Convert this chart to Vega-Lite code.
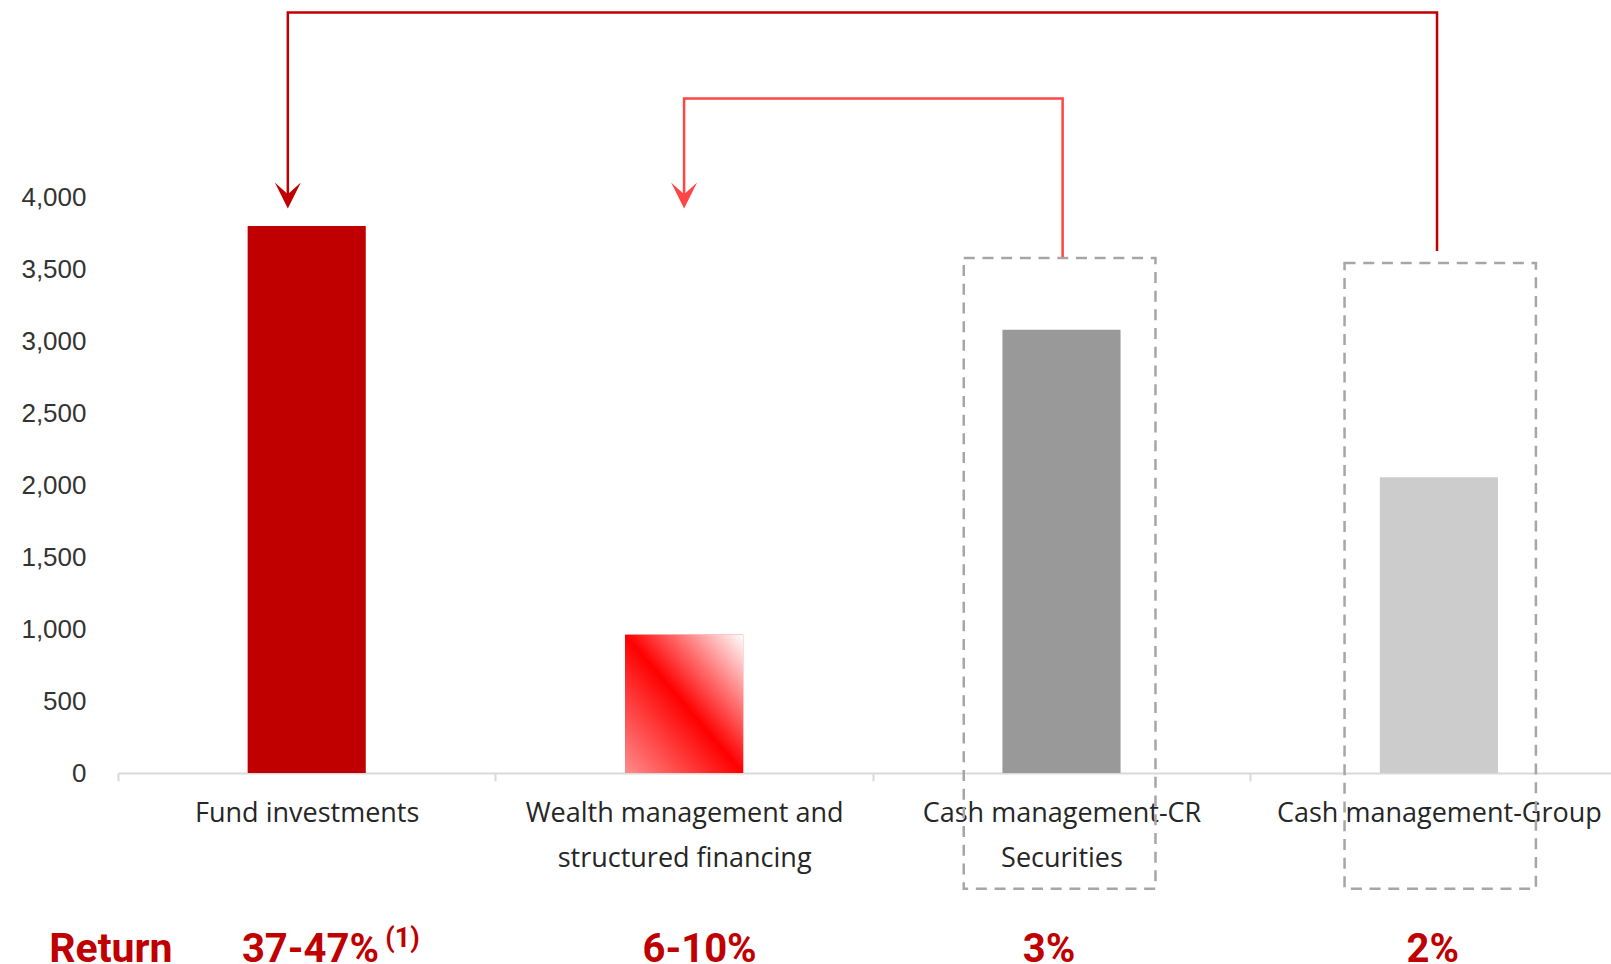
{
  "$schema": "https://vega.github.io/schema/vega-lite/v6.json",
  "width": 1493,
  "height": 773,
  "autosize": {"type": "none"},
  "padding": {"left": 118, "top": 0, "right": 0, "bottom": 191},
  "background": "white",
  "datasets": {
    "bars": [
      {"category": "Fund investments", "amount": 3800},
      {"category": "Wealth management and structured financing", "amount": 960},
      {"category": "Cash management-CR Securities", "amount": 3080},
      {"category": "Cash management-Group", "amount": 2055}
    ],
    "arrows": [
      {"path": "dark", "seq": 1, "x": 3.495, "y": 3626},
      {"path": "dark", "seq": 2, "x": 3.495, "y": 5283},
      {"path": "dark", "seq": 3, "x": 0.45, "y": 5283},
      {"path": "dark", "seq": 4, "x": 0.45, "y": 4012},
      {"path": "light", "seq": 1, "x": 2.503, "y": 3585},
      {"path": "light", "seq": 2, "x": 2.503, "y": 4686},
      {"path": "light", "seq": 3, "x": 1.5, "y": 4686},
      {"path": "light", "seq": 4, "x": 1.5, "y": 4012}
    ],
    "heads": [
      {"path": "dark", "x": 0.45, "y": 4012},
      {"path": "light", "x": 1.5, "y": 4012}
    ],
    "boxes": [
      {"x": 2.241, "x2": 2.749, "y": 3578, "y2": -804},
      {"x": 3.25, "x2": 3.757, "y": 3543, "y2": -804}
    ],
    "returnLabel": [{"text": "Return", "x": -0.182, "y": -1313}],
    "returns": [
      {"text": "37-47%", "x": 0.51, "y": -1313},
      {"text": "6-10%", "x": 1.541, "y": -1313},
      {"text": "3%", "x": 2.467, "y": -1313},
      {"text": "2%", "x": 3.484, "y": -1313}
    ],
    "notes": [{"text": "(1)", "x": 0.708, "y": -1212}]
  },
  "config": {
    "view": {"stroke": null},
    "axisY": {
      "labelFont": "Liberation Sans",
      "labelFontSize": 26,
      "labelColor": "#333333",
      "labelPadding": 32,
      "labelExpr": "format(datum.value, ',')",
      "ticks": false,
      "tickSize": 0,
      "domain": false,
      "grid": false,
      "title": null
    },
    "axisX": {
      "labelFont": "Open Sans",
      "labelFontSize": 27,
      "labelColor": "#262626",
      "labelAngle": 0,
      "labelLimit": 500,
      "labelLineHeight": 45,
      "labelPadding": 19,
      "labelBaseline": "top",
      "domainColor": "#D9D9D9",
      "domainWidth": 2,
      "tickColor": "#D9D9D9",
      "tickWidth": 2,
      "tickSize": 8,
      "tickBand": "extent",
      "grid": false,
      "title": null
    }
  },
  "layer": [
    {
      "data": {"name": "bars"},
      "layer": [
        {
          "mark": {"type": "bar", "width": {"band": 0.313}},
          "encoding": {
            "x": {
              "field": "category",
              "type": "nominal",
              "sort": null,
              "scale": {"range": [0, 1509.6], "paddingInner": 0, "paddingOuter": 0},
              "axis": {
                "title": null,
                "labelExpr": "datum.label == 'Wealth management and structured financing' ? ['Wealth management and', 'structured financing'] : datum.label == 'Cash management-CR Securities' ? ['Cash management-CR', 'Securities'] : datum.label"
              }
            },
            "y": {
              "field": "amount",
              "type": "quantitative",
              "title": null,
              "scale": {"domain": [0, 5370], "nice": false, "zero": true},
              "axis": {"values": [0, 500, 1000, 1500, 2000, 2500, 3000, 3500, 4000], "format": ",", "title": null}
            },
            "color": {
              "field": "category",
              "type": "nominal",
              "scale": {
                "domain": ["Fund investments", "Wealth management and structured financing", "Cash management-CR Securities", "Cash management-Group"],
                "range": ["#C00000", "#FF0000", "#999999", "#CCCCCC"]
              },
              "legend": null
            }
          }
        },
        {
          "transform": [{"filter": "datum.category == 'Wealth management and structured financing'"}],
          "mark": {
            "type": "bar",
            "width": {"band": 0.313},
            "color": {
              "gradient": "linear",
              "x1": 0, "y1": 1, "x2": 1, "y2": 0,
              "stops": [
                {"offset": 0, "color": "#FF8C8C"},
                {"offset": 0.5, "color": "#FF0000"},
                {"offset": 1, "color": "#FFFFFF"}
              ]
            }
          },
          "encoding": {
            "x": {"field": "category", "type": "nominal", "sort": null},
            "y": {"field": "amount", "type": "quantitative", "title": null}
          }
        }
      ]
    },
    {
      "data": {"name": "boxes"},
      "mark": {"type": "rect", "filled": false, "stroke": "#A6A6A6", "strokeWidth": 2.5, "strokeDash": [11, 7.7]},
      "encoding": {
        "x": {"field": "x", "type": "quantitative", "scale": {"domain": [0, 4], "range": [0, 1509.6], "nice": false, "zero": false}, "axis": null},
        "x2": {"field": "x2"},
        "y": {"field": "y", "type": "quantitative", "title": null, "scale": {"domain": [0, 5370], "nice": false}},
        "y2": {"field": "y2"}
      }
    },
    {
      "data": {"name": "arrows"},
      "mark": {"type": "line", "strokeWidth": 2.5, "strokeJoin": "miter", "strokeCap": "butt"},
      "encoding": {
        "x": {"field": "x", "type": "quantitative", "scale": {"domain": [0, 4], "range": [0, 1509.6], "nice": false, "zero": false}, "axis": null},
        "y": {"field": "y", "type": "quantitative", "title": null, "scale": {"domain": [0, 5370], "nice": false}},
        "order": {"field": "seq", "type": "quantitative"},
        "detail": {"field": "path", "type": "nominal"},
        "color": {"condition": {"test": "datum.path == 'dark'", "value": "#C00000"}, "value": "#FF4646"}
      }
    },
    {
      "data": {"name": "heads"},
      "mark": {"type": "point", "shape": "M0,1L-1,-1L0,-0.1L1,-1Z", "filled": true, "size": 676, "strokeWidth": 0, "opacity": 1},
      "encoding": {
        "x": {"field": "x", "type": "quantitative", "scale": {"domain": [0, 4], "range": [0, 1509.6], "nice": false, "zero": false}, "axis": null},
        "y": {"field": "y", "type": "quantitative", "title": null, "scale": {"domain": [0, 5370], "nice": false}},
        "color": {"condition": {"test": "datum.path == 'dark'", "value": "#C00000"}, "value": "#FF4646"}
      }
    },
    {
      "data": {"name": "returnLabel"},
      "mark": {"type": "text", "align": "left", "baseline": "alphabetic", "font": "Roboto", "fontWeight": "bold", "fontSize": 41, "color": "#C00000"},
      "encoding": {
        "x": {"field": "x", "type": "quantitative", "scale": {"domain": [0, 4], "range": [0, 1509.6], "nice": false, "zero": false}, "axis": null},
        "y": {"field": "y", "type": "quantitative", "title": null, "scale": {"domain": [0, 5370], "nice": false}},
        "text": {"field": "text"}
      }
    },
    {
      "data": {"name": "returns"},
      "mark": {"type": "text", "align": "center", "baseline": "alphabetic", "font": "Roboto", "fontWeight": "bold", "fontSize": 40, "color": "#C00000"},
      "encoding": {
        "x": {"field": "x", "type": "quantitative", "scale": {"domain": [0, 4], "range": [0, 1509.6], "nice": false, "zero": false}, "axis": null},
        "y": {"field": "y", "type": "quantitative", "title": null, "scale": {"domain": [0, 5370], "nice": false}},
        "text": {"field": "text"}
      }
    },
    {
      "data": {"name": "notes"},
      "mark": {"type": "text", "align": "left", "baseline": "alphabetic", "font": "Roboto", "fontWeight": "bold", "fontSize": 27, "color": "#C00000"},
      "encoding": {
        "x": {"field": "x", "type": "quantitative", "scale": {"domain": [0, 4], "range": [0, 1509.6], "nice": false, "zero": false}, "axis": null},
        "y": {"field": "y", "type": "quantitative", "title": null, "scale": {"domain": [0, 5370], "nice": false}},
        "text": {"field": "text"}
      }
    }
  ],
  "resolve": {"scale": {"x": "independent"}, "axis": {"x": "independent"}}
}
